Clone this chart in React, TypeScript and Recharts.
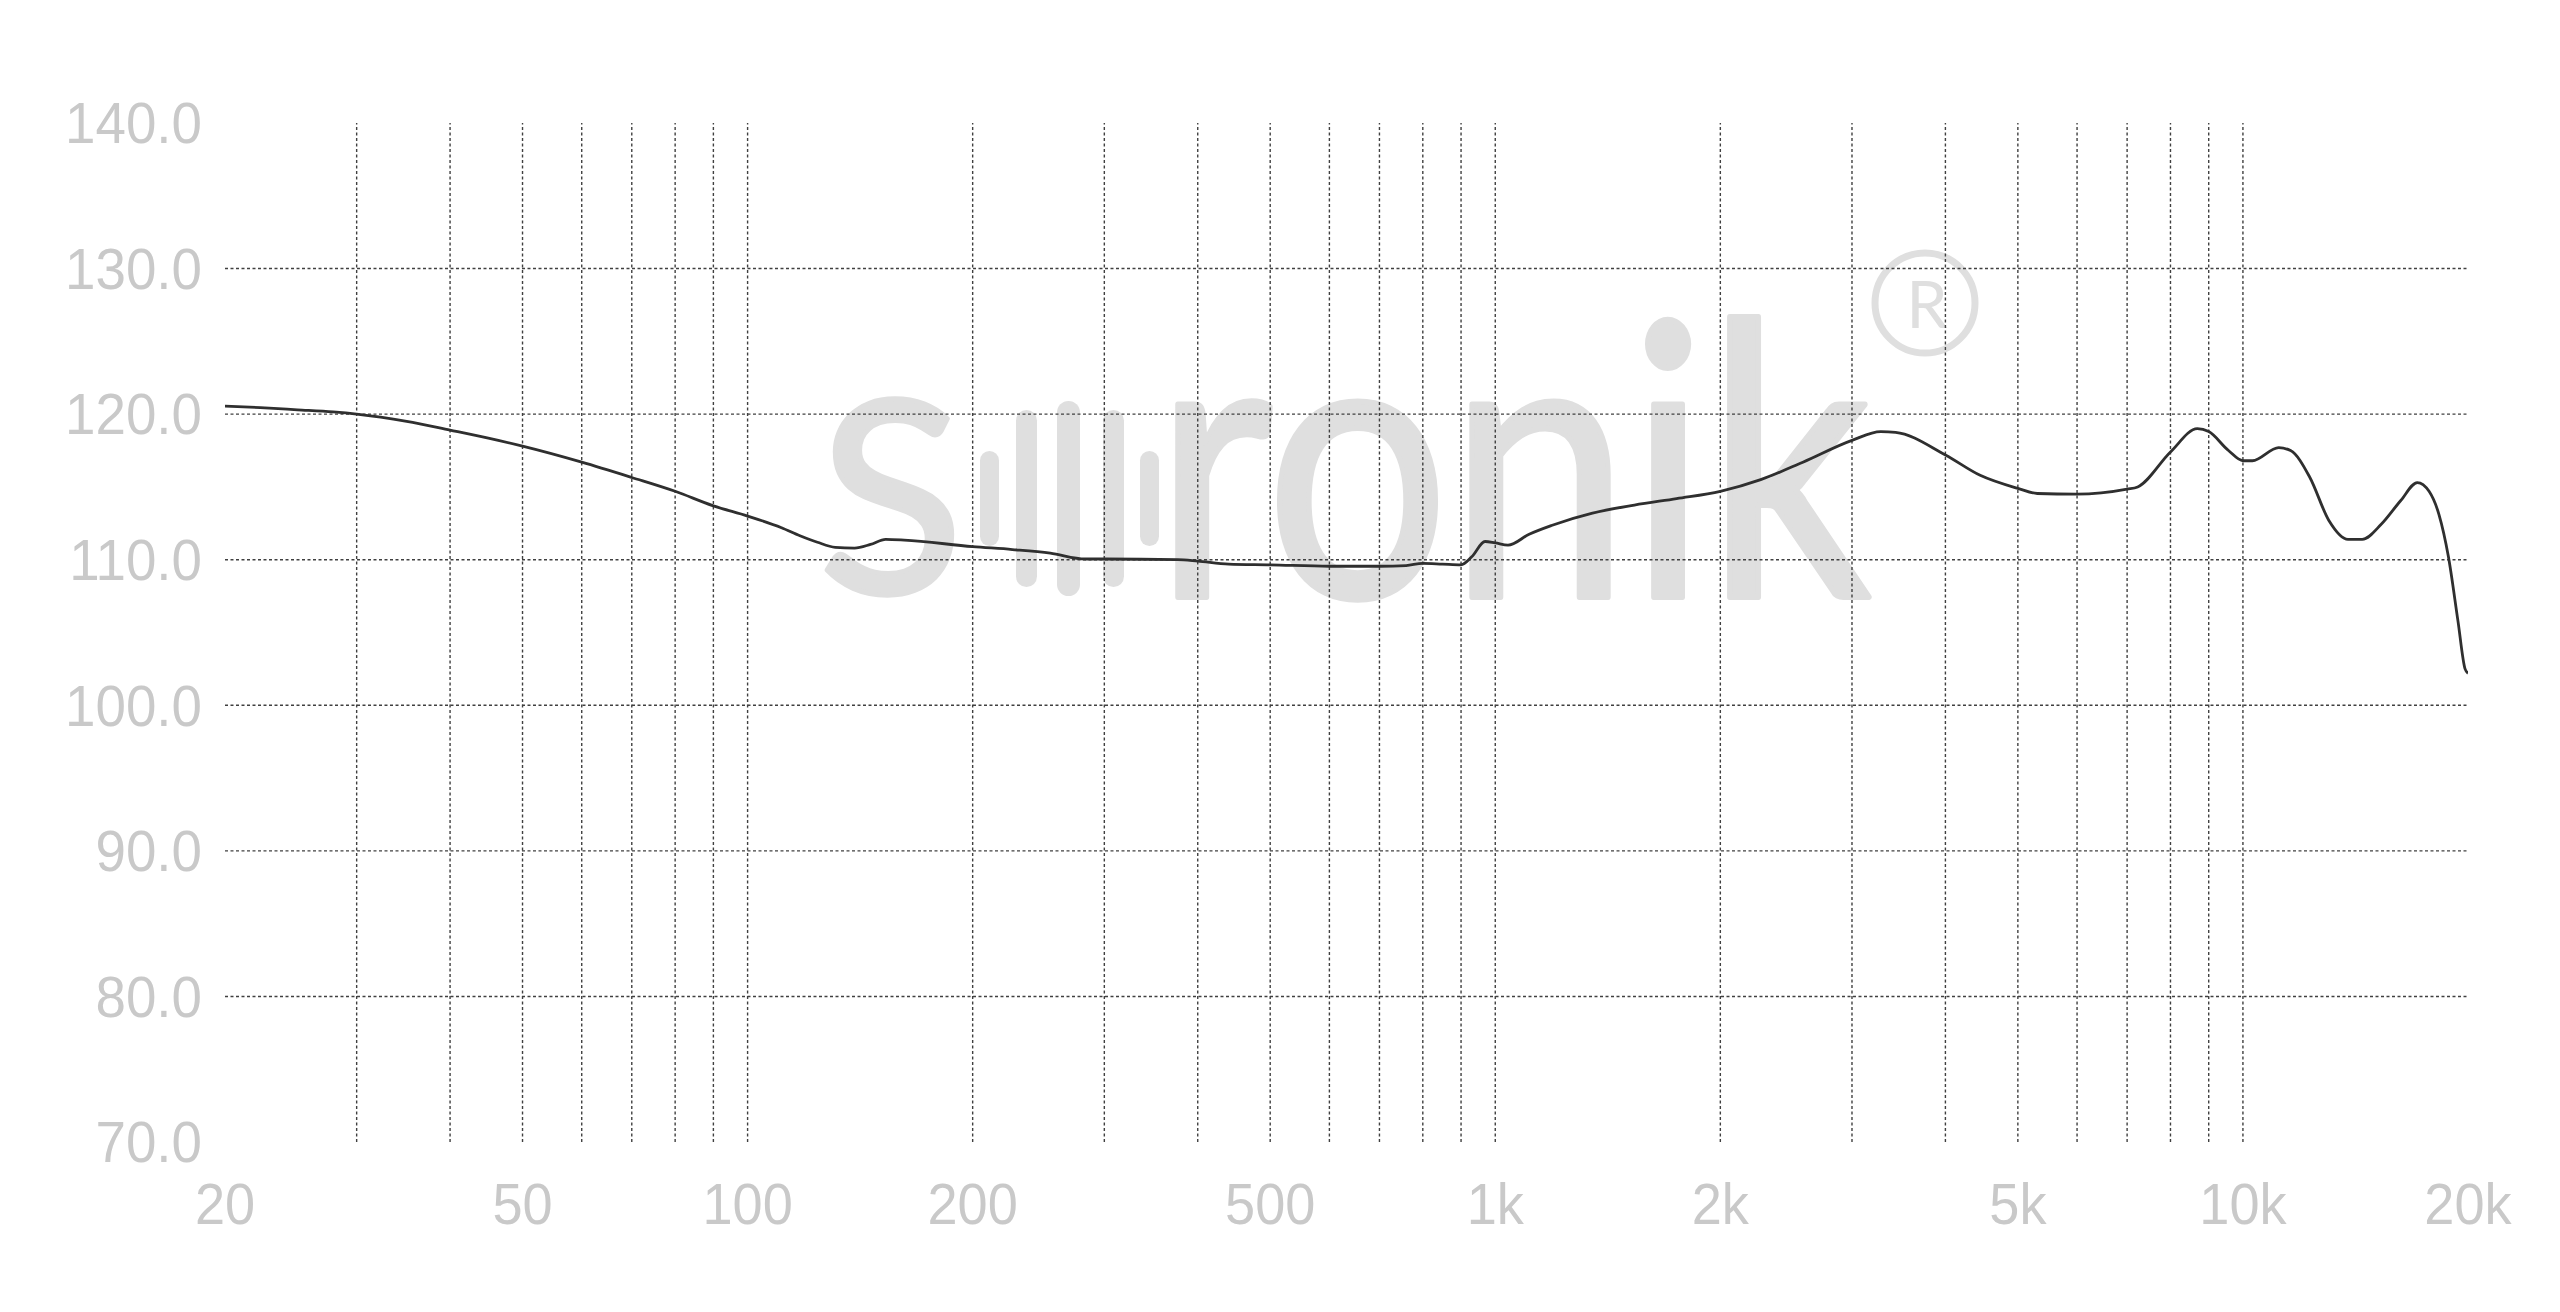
import React from 'react';
import { LineChart, Line, XAxis, YAxis, ReferenceLine } from 'recharts';

// ---- data ----
const frequencies = [
  20, 22.3, 25, 27.9, 30, 35, 40, 45, 50, 60, 70, 80, 90, 100, 111, 117.5, 124, 131, 139, 146, 153, 162,
  200, 226, 254, 283, 300, 376, 400, 440, 500, 600, 700, 760, 800, 850, 900, 930, 969, 1000, 1040, 1110,
  1189, 1349, 1535, 1748, 2000, 2265, 2579, 3000, 3278, 3431, 4000, 4452, 5000, 5309, 6000, 7000, 7231,
  8000, 8690, 9000, 9565, 10000, 10295, 11165, 11580, 12290, 13030, 13820, 14440, 15320, 16250, 17110,
  17740, 18290, 18830, 19390, 19820, 20000,
];
const splValues = [
  120.55, 120.45, 120.3, 120.15, 120.0, 119.5, 118.9, 118.35, 117.8, 116.7, 115.65, 114.7, 113.7, 113.0,
  112.2, 111.65, 111.2, 110.85, 110.8, 111.05, 111.4, 111.35,
  110.9, 110.7, 110.45, 110.05, 110.05, 110.0, 109.9, 109.7, 109.65, 109.55, 109.55, 109.6, 109.75, 109.7,
  109.65, 110.2, 111.25, 111.15, 111.0, 111.75,
  112.35, 113.2, 113.75, 114.2, 114.7, 115.5, 116.7, 118.2, 118.8, 118.75, 117.2, 115.8, 114.9, 114.55,
  114.5, 114.85, 115.0,
  117.4, 119.0, 118.8, 117.5, 116.8, 116.8, 117.7, 117.5, 115.65, 112.7, 111.4, 111.4, 112.45, 114.05,
  115.3, 114.7, 113.1, 110.2, 105.8, 102.5, 102.2,
];
const xTicks = [20, 50, 100, 200, 500, 1000, 2000, 5000, 10000, 20000];
const yTicks = [70, 80, 90, 100, 110, 120, 130, 140];
const xGridValues = [
  30, 40, 50, 60, 70, 80, 90, 100, 200, 300, 400, 500, 600, 700, 800, 900,
  1000, 2000, 3000, 4000, 5000, 6000, 7000, 8000, 9000, 10000,
];
const yGridValues = [80, 90, 100, 110, 120, 130];

const data = frequencies.map((f, i) => ({ f, spl: splValues[i] }));

// ---- styling ----
const LABEL_COLOR = '#c9c9c9';
const GRID_COLOR = '#404040';
const FONT = '"Liberation Sans", Arial, sans-serif';
const FONT_SIZE = 57;
const WM = '#dfdfdf';

const fmtFreq = (v: number) => (v >= 1000 ? `${v / 1000}k` : `${v}`);

const XTick = (props: any) => {
  const { x, y, payload } = props;
  return (
    <g transform={`translate(${x},${y})`}>
      <text
        transform="scale(0.95,1)"
        x={0}
        y={0}
        dy="0.71em"
        textAnchor="middle"
        fill={LABEL_COLOR}
        fontFamily={FONT}
        fontSize={FONT_SIZE}
      >
        {fmtFreq(payload.value)}
      </text>
    </g>
  );
};

const YTick = (props: any) => {
  const { x, y, payload } = props;
  return (
    <g transform={`translate(${x},${y})`}>
      <text
        transform="scale(0.96,1)"
        x={0}
        y={0}
        dy="0.355em"
        textAnchor="end"
        fill={LABEL_COLOR}
        fontFamily={FONT}
        fontSize={FONT_SIZE}
      >
        {Number(payload.value).toFixed(1)}
      </text>
    </g>
  );
};

const Watermark = () => (
  <svg width={2560} height={1312} style={{ position: 'absolute', left: 0, top: 0 }}>
    <text
      x={891}
      y={593}
      textAnchor="middle"
      fontFamily="Lato, sans-serif"
      fontSize={268}
      fill={WM}
      stroke={WM}
      strokeWidth={5}
      strokeLinejoin="round"
    >
      S
    </text>
    <rect x={980} y={451} width={19} height={95} rx={9.5} fill={WM} />
    <rect x={1016} y={410} width={21} height={177} rx={10.5} fill={WM} />
    <rect x={1057} y={401} width={23} height={195} rx={11.5} fill={WM} />
    <rect x={1103} y={410} width={21} height={177} rx={10.5} fill={WM} />
    <rect x={1140} y={451} width={19} height={95} rx={9.5} fill={WM} />
    <g transform="translate(1155,597) scale(0.85,1)">
      <text
        x={0}
        y={0}
        fontFamily="Lato, sans-serif"
        fontSize={380}
        fill={WM}
        stroke={WM}
        strokeWidth={6}
        strokeLinejoin="round"
      >
        ronik
      </text>
    </g>
    <circle cx={1925} cy={303} r={50} fill="none" stroke={WM} strokeWidth={7} />
    <text x={1927} y={328} textAnchor="middle" fontFamily="Lato, sans-serif" fontSize={66} fill={WM}>
      R
    </text>
  </svg>
);

export default function App() {
  return (
    <div style={{ position: 'absolute', left: 0, top: 0, width: 2560, height: 1312, background: '#fff' }}>
      <Watermark />
      <div style={{ position: 'absolute', left: 0, top: 0 }}>
        <LineChart
          width={2560}
          height={1312}
          data={data}
          margin={{ top: 123, right: 92, bottom: 110, left: 0 }}
        >
          <XAxis
            dataKey="f"
            type="number"
            scale="log"
            domain={[20, 20000]}
            ticks={xTicks}
            interval={0}
            allowDataOverflow
            axisLine={false}
            tickLine={false}
            tickSize={0}
            tickMargin={42}
            height={60}
            tick={<XTick />}
          />
          <YAxis
            type="number"
            domain={[70, 140]}
            ticks={yTicks}
            interval={0}
            allowDataOverflow
            axisLine={false}
            tickLine={false}
            tickSize={0}
            tickMargin={23}
            width={225}
            tick={<YTick />}
          />
          {yGridValues.map((v) => (
            <ReferenceLine key={`h${v}`} y={v} stroke={GRID_COLOR} strokeWidth={1.4} strokeDasharray="3 2.5" />
          ))}
          {xGridValues.map((v) => (
            <ReferenceLine key={`v${v}`} x={v} stroke={GRID_COLOR} strokeWidth={1.4} strokeDasharray="3 2.5" />
          ))}
          <Line
            type="monotone"
            dataKey="spl"
            stroke="#2f2f2f"
            strokeWidth={2.8}
            dot={false}
            activeDot={false}
            isAnimationActive={false}
          />
        </LineChart>
      </div>
    </div>
  );
}
